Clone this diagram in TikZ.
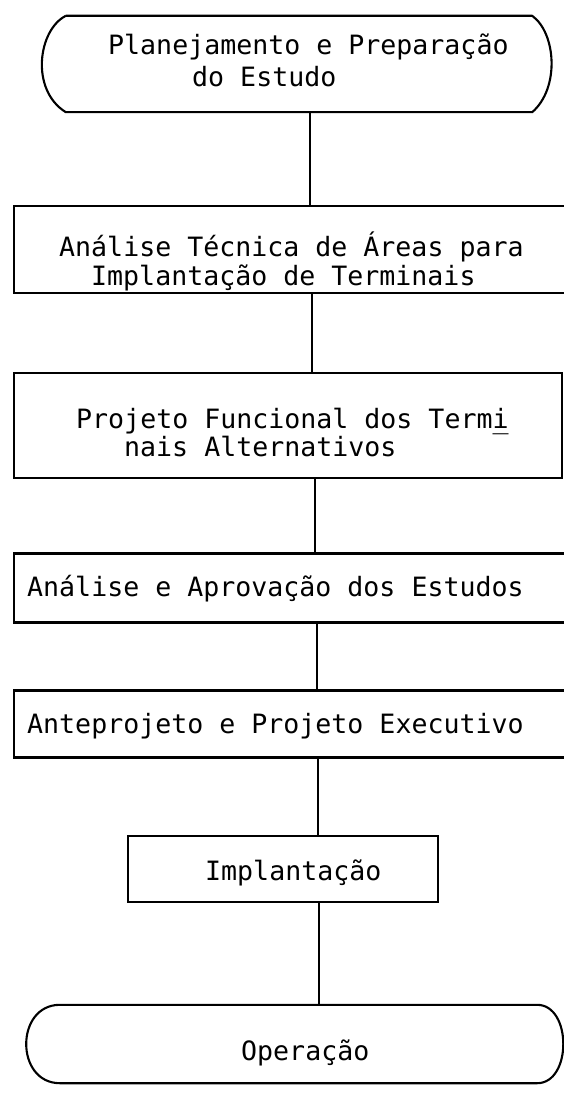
\documentclass[tikz,border=0pt]{standalone}
\usepackage{fontspec}
\setmonofont{DejaVu Sans Mono}
\begin{document}
\begin{tikzpicture}[x=1pt,y=-1pt,
  ln/.style={line width=2.1pt, line join=round},
  boxn/.style={draw, line width=2.1pt, inner sep=0, minimum width=#1},
  hid/.style={inner sep=0, minimum width=#1},
  lbl/.style={anchor=base west, inner sep=0, font=\fontsize{26.6}{30}\selectfont\ttfamily}]
\clip (0,0) rectangle (564,1094);
\fill[white] (0,0) rectangle (564,1094);
% terminal 1
\node[hid=466pt, minimum height=96pt] (t1) at (299,64) {};
\draw[ln] (t1.north west) -- (t1.north east)
  .. controls (556,33) and (560,88) .. (t1.south east)
  -- (t1.south west)
  .. controls (30,90) and (38,30) .. (t1.north west);
\node[lbl] (t1a) at (108,55) {Planejamento e Preparação};
\node[lbl] (t1b) at (192,87) {do Estudo};
% box 2
\node[boxn=566pt, minimum height=87pt] (b2) at (297,249.5) {};
\node[lbl] (b2a) at (59,256) {Análise Técnica de Áreas para};
\node[lbl] (b2b) at (91,285) {Implantação de Terminais};
% box 3
\node[boxn=548pt, minimum height=105pt] (b3) at (288,425.5) {};
\node[lbl] (b3a) at (76,428) {Projeto Funcional dos Termi\llap{\_}};
\node[lbl] (b3b) at (124,456) {nais Alternativos};
% box 4
\node[boxn=566pt, minimum height=69pt] (b4) at (297,588) {};
\node[lbl] (b4a) at (27,596) {Análise e Aprovação dos Estudos};
% box 5
\node[boxn=566pt, minimum height=67pt] (b5) at (297,724) {};
\node[lbl] (b5a) at (27,733) {Anteprojeto e Projeto Executivo};
% box 6
\node[boxn=310pt, minimum height=66pt] (b6) at (283,869) {};
\node[lbl] (b6a) at (205,880) {Implantação};
% terminal 2
\node[hid=477pt, minimum height=78pt] (t2) at (298.5,1044) {};
\draw[ln] (t2.north west) -- (t2.north east)
  .. controls (572,1005) and (572,1083) .. (t2.south east)
  -- (t2.south west)
  .. controls (15,1083) and (15,1005) .. (t2.north west);
\node[lbl] (t2a) at (241,1060) {Operação};
% connectors
\draw[ln] (t1.south -| 310,0) -- (b2.north -| 310,0);
\draw[ln] (b2.south -| 312,0) -- (b3.north -| 312,0);
\draw[ln] (b3.south -| 315,0) -- (b4.north -| 315,0);
\draw[ln] (b4.south -| 317,0) -- (b5.north -| 317,0);
\draw[ln] (b5.south -| 318,0) -- (b6.north -| 318,0);
\draw[ln] (b6.south -| 319,0) -- (t2.north -| 319,0);
\end{tikzpicture}
\end{document}
